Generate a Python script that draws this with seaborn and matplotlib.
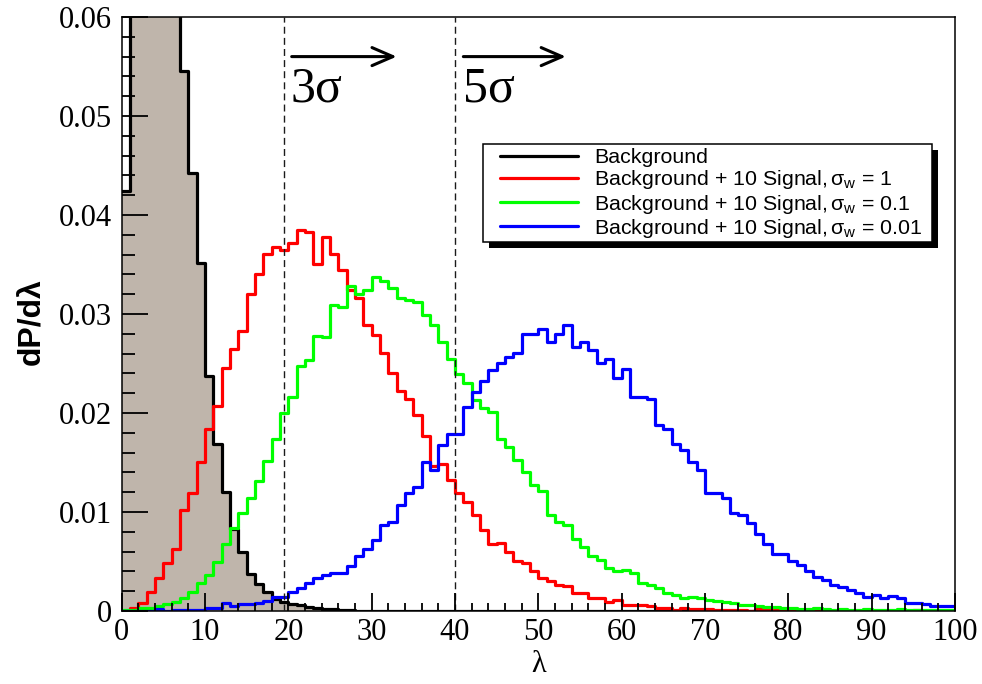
import numpy as np
import pandas as pd
import matplotlib
matplotlib.use("Agg")
import matplotlib.pyplot as plt
from matplotlib.patches import Rectangle
from matplotlib.lines import Line2D
from matplotlib.ticker import MultipleLocator, FuncFormatter
import seaborn as sns

# Histogram binning of the test statistic lambda (unit-width bins, 0..100)
bin_edges = list(range(0, 101))

# dP/dlambda per bin for each hypothesis
background = [
    0.0424, 0.0660, 0.0790, 0.0850, 0.0840, 0.0770, 0.0660, 0.0545, 0.0442, 0.0352,
    0.0237, 0.0169, 0.0120, 0.0083, 0.0060, 0.0037, 0.0027, 0.0019, 0.0012, 0.0009,
    0.0007, 0.0006, 0.0004, 0.0003, 0.0002, 0.0002, 0.0001, 0.0001, 0.0000, 0.0000,
] + [0.0] * 70

signal_w1 = [
    0.0000, 0.0003, 0.0008, 0.0019, 0.0033, 0.0048, 0.0063, 0.0102, 0.0119, 0.0151,
    0.0184, 0.0207, 0.0245, 0.0265, 0.0283, 0.0320, 0.0340, 0.0361, 0.0368, 0.0365,
    0.0372, 0.0385, 0.0383, 0.0351, 0.0378, 0.0361, 0.0344, 0.0324, 0.0316, 0.0289,
    0.0279, 0.0261, 0.0240, 0.0222, 0.0214, 0.0198, 0.0177, 0.0146, 0.0148, 0.0132,
    0.0119, 0.0110, 0.0097, 0.0082, 0.0068, 0.0069, 0.0060, 0.0051, 0.0048, 0.0040,
    0.0033, 0.0030, 0.0026, 0.0025, 0.0018, 0.0018, 0.0013, 0.0013, 0.0009, 0.0011,
    0.0006, 0.0006, 0.0006, 0.0005, 0.0003, 0.0003, 0.0001, 0.0003, 0.0002, 0.0002,
    0.0002, 0.0001, 0.0001, 0.0001, 0.0001, 0.0000, 0.0002, 0.0001, 0.0001, 0.0000,
    0.0000, 0.0000, 0.0000, 0.0000, 0.0001, 0.0000, 0.0001, 0.0000, 0.0000, 0.0000,
    0.0000, 0.0000, 0.0000, 0.0000, 0.0000, 0.0001, 0.0000, 0.0000, 0.0000, 0.0000,
]

signal_w01 = [
    0.0001, 0.0001, 0.0003, 0.0003, 0.0005, 0.0007, 0.0009, 0.0013, 0.0019, 0.0028,
    0.0036, 0.0050, 0.0068, 0.0084, 0.0099, 0.0114, 0.0131, 0.0152, 0.0174, 0.0200,
    0.0216, 0.0247, 0.0254, 0.0278, 0.0277, 0.0309, 0.0307, 0.0328, 0.0320, 0.0324,
    0.0337, 0.0333, 0.0326, 0.0316, 0.0314, 0.0312, 0.0299, 0.0289, 0.0272, 0.0255,
    0.0239, 0.0230, 0.0213, 0.0205, 0.0201, 0.0174, 0.0166, 0.0153, 0.0140, 0.0127,
    0.0121, 0.0097, 0.0090, 0.0087, 0.0073, 0.0065, 0.0056, 0.0052, 0.0043, 0.0040,
    0.0041, 0.0038, 0.0028, 0.0026, 0.0023, 0.0018, 0.0016, 0.0013, 0.0014, 0.0013,
    0.0011, 0.0010, 0.0009, 0.0008, 0.0006, 0.0006, 0.0005, 0.0004, 0.0004, 0.0003,
    0.0003, 0.0002, 0.0002, 0.0003, 0.0002, 0.0001, 0.0002, 0.0001, 0.0001, 0.0002,
    0.0001, 0.0001, 0.0001, 0.0002, 0.0001, 0.0001, 0.0001, 0.0001, 0.0001, 0.0001,
]

signal_w001 = [
    0.0000, 0.0000, 0.0000, 0.0000, 0.0002, 0.0000, 0.0001, 0.0001, 0.0001, 0.0001,
    0.0003, 0.0003, 0.0008, 0.0005, 0.0007, 0.0007, 0.0008, 0.0010, 0.0014, 0.0014,
    0.0019, 0.0023, 0.0028, 0.0033, 0.0036, 0.0038, 0.0038, 0.0045, 0.0056, 0.0063,
    0.0072, 0.0087, 0.0090, 0.0107, 0.0119, 0.0125, 0.0151, 0.0142, 0.0168, 0.0179,
    0.0179, 0.0206, 0.0221, 0.0232, 0.0243, 0.0250, 0.0257, 0.0261, 0.0280, 0.0280,
    0.0285, 0.0272, 0.0280, 0.0289, 0.0267, 0.0272, 0.0264, 0.0250, 0.0255, 0.0235,
    0.0244, 0.0216, 0.0216, 0.0214, 0.0188, 0.0184, 0.0169, 0.0163, 0.0151, 0.0142,
    0.0119, 0.0119, 0.0114, 0.0099, 0.0097, 0.0089, 0.0078, 0.0068, 0.0058, 0.0058,
    0.0051, 0.0046, 0.0040, 0.0034, 0.0031, 0.0026, 0.0024, 0.0021, 0.0018, 0.0014,
    0.0016, 0.0013, 0.0015, 0.0013, 0.0008, 0.0008, 0.0007, 0.0005, 0.0005, 0.0005,
]

# Significance thresholds on lambda
threshold_3sigma = 19.5
threshold_5sigma = 40.0

series_names = ["Background", "signal_w1", "signal_w01", "signal_w001"]
series_labels = [
    "Background",
    r"Background + 10 Signal,$\mathregular{\,\sigma_w}$ = 1",
    r"Background + 10 Signal,$\mathregular{\,\sigma_w}$ = 0.1",
    r"Background + 10 Signal,$\mathregular{\,\sigma_w}$ = 0.01",
]
series_colors = ["#000000", "#ff0000", "#00ff00", "#0000ff"]
background_fill = "#bfb5ab"

x_ticks = list(range(0, 101, 10))
y_ticks = [0.0, 0.01, 0.02, 0.03, 0.04, 0.05, 0.06]

sns.set_style("white")
plt.rcParams.update({
    "font.family": ["Liberation Serif", "DejaVu Serif"],
    "mathtext.fontset": "custom",
    "mathtext.rm": "Liberation Sans",
    "mathtext.it": "Liberation Sans:italic",
    "xtick.bottom": True,
    "ytick.left": True,
    "xtick.direction": "in",
    "ytick.direction": "in",
    "xtick.color": "black",
    "ytick.color": "black",
    "axes.labelcolor": "black",
    "text.color": "black",
    "axes.axisbelow": False,
})

df = pd.DataFrame({
    "lam": np.arange(100) + 0.5,
    "Background": background,
    "signal_w1": signal_w1,
    "signal_w01": signal_w01,
    "signal_w001": signal_w001,
})

fig = plt.figure(figsize=(9.82, 6.84), dpi=100)
W, H = 982.0, 684.0
ax_l, ax_r, ax_t, ax_b = 121.7, 955.0, 17.0, 611.0
ax = fig.add_axes([ax_l / W, 1 - ax_b / H, (ax_r - ax_l) / W, (ax_b - ax_t) / H])
ax.set_axisbelow(False)


def px_to_axes(px, py):
    """Convert figure pixel position (origin top-left) to axes fraction."""
    return (px - ax_l) / (ax_r - ax_l), (ax_b - py) / (ax_b - ax_t)


# Shaded background distribution
sns.histplot(data=df, x="lam", weights="Background", bins=bin_edges, element="step",
             fill=True, color=background_fill, alpha=1.0, linewidth=0, ax=ax, zorder=1)

# Outlines of the four distributions
for name, color in zip(series_names, series_colors):
    sns.histplot(data=df, x="lam", weights=name, bins=bin_edges, element="step",
                 fill=False, color=color, linewidth=2.3, ax=ax, zorder=2)

# Threshold markers
for thr in (threshold_3sigma, threshold_5sigma):
    ax.axvline(thr, color="#1a1a1a", lw=1.0, ls=(0, (5, 3)), zorder=6)

arrow_props = dict(arrowstyle="->,head_length=1.5,head_width=0.65", lw=2.2,
                   color="black", shrinkA=0, shrinkB=0, mutation_scale=10)
ax.annotate("", xy=(33.0, 0.0560), xytext=(20.4, 0.0560), arrowprops=arrow_props, zorder=7)
ax.annotate("", xy=(53.3, 0.0560), xytext=(41.0, 0.0560), arrowprops=arrow_props, zorder=7)
ax.text(20.3, 0.0515, "3σ", fontsize=36, ha="left", va="baseline", zorder=7)
ax.text(41.0, 0.0515, "5σ", fontsize=36, ha="left", va="baseline", zorder=7)

ax.set_xlim(0, 100)
ax.set_ylim(0, 0.06)
ax.set_xticks(x_ticks)
ax.set_yticks(y_ticks)
ax.xaxis.set_minor_locator(MultipleLocator(2))
ax.yaxis.set_minor_locator(MultipleLocator(0.002))
ax.yaxis.set_major_formatter(FuncFormatter(lambda v, p: "0" if abs(v) < 1e-9 else f"{v:.2f}"))

ax.tick_params(axis="x", which="major", direction="in", length=13, width=1.3,
               top=False, bottom=True, labelsize=22, pad=5, colors="black")
ax.tick_params(axis="x", which="minor", direction="in", length=6, width=1.3,
               top=False, bottom=True, colors="black")
ax.tick_params(axis="y", which="major", direction="in", length=19, width=1.3,
               right=False, left=True, labelsize=22, pad=7, colors="black")
ax.tick_params(axis="y", which="minor", direction="in", length=9.5, width=1.3,
               right=False, left=True, colors="black")
# Tick marks sit on top of the histograms
ax.xaxis.set_zorder(9.5)
ax.yaxis.set_zorder(9.5)

for sp in ax.spines.values():
    sp.set_color("black")
    sp.set_linewidth(1.1)
    sp.set_visible(True)

ax.set_xlabel("λ", fontsize=22, labelpad=2, color="black")
ax.set_ylabel("dP/dλ", fontfamily=["Liberation Sans", "DejaVu Sans"], fontweight="bold",
              fontsize=23, color="black")
ax.yaxis.set_label_coords(*px_to_axes(47, 322))

# Legend entries (frame drawn separately with a solid drop shadow)
handles = [Line2D([0], [0], color=c, lw=2.3) for c in series_colors]
leg = ax.legend(handles, series_labels, loc="upper left",
                bbox_to_anchor=px_to_axes(500, 148), borderaxespad=0,
                frameon=False, borderpad=0,
                prop={"family": "Liberation Sans", "size": 15.4},
                handlelength=3.65, handletextpad=0.75, labelspacing=0.06)
leg.set_zorder(8)

box_x0, box_y1 = px_to_axes(483, 144)
box_x1, box_y0 = px_to_axes(932, 242)
sx, sy = 6.0 / (ax_r - ax_l), 6.0 / (ax_b - ax_t)
ax.add_patch(Rectangle((box_x0 + sx, box_y0 - sy), box_x1 - box_x0, box_y1 - box_y0,
                       transform=ax.transAxes, facecolor="black", edgecolor="none",
                       clip_on=False, zorder=7.4))
ax.add_patch(Rectangle((box_x0, box_y0), box_x1 - box_x0, box_y1 - box_y0,
                       transform=ax.transAxes, facecolor="white", edgecolor="black",
                       linewidth=1.1, clip_on=False, zorder=7.5))

fig.savefig("out.png", dpi=100)
